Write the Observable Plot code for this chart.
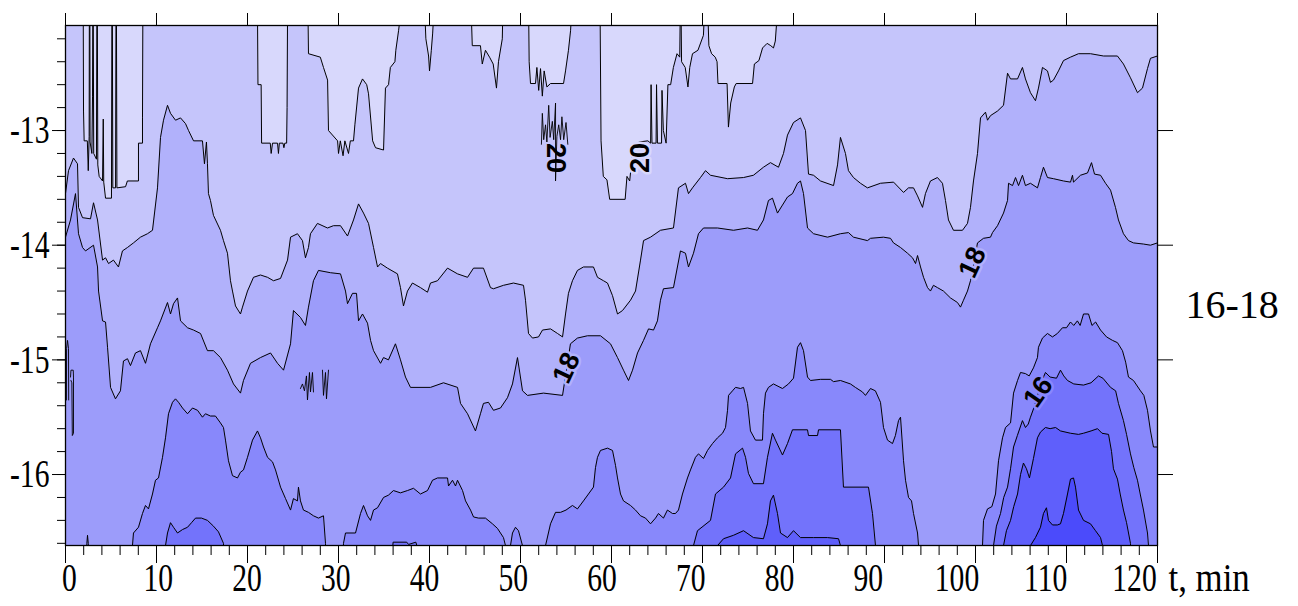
<!DOCTYPE html>
<html><head><meta charset="utf-8">
<script src="https://cdn.jsdelivr.net/npm/d3@7"></script>
<script src="https://cdn.jsdelivr.net/npm/@observablehq/plot@0.6"></script>
<style>body{margin:0;background:#fff}</style>
</head><body><div id="chart"></div>
<script>
const T = -12.0, B = -16.7;   // "beyond the frame" values (above top / below bottom)

const xTicks = [0,10,20,30,40,50,60,70,80,90,100,110,120];
const yTicks = [-13,-14,-15,-16];
const bandColors = ["#4b4bfb","#5f5ffb","#7373fb","#8888fb","#9c9cfa","#b1b1fb","#c5c5fb","#d8d8fc"]; // <14,14-15,...,>20

const L20 = [[0,T],[1.95,T],[1.98,-12.83],[2.05,-13.09],[2.4,-13.09],[2.5,-13.35],[2.6,-13.05],[2.62,T],[2.68,T],[2.7,-13.1],[2.9,-13.2],[2.97,-12.7],[3.0,T],[3.05,T],[3.1,-13.2],[3.4,-13.25],[3.45,T],[3.5,T],[3.55,-13.3],[3.7,-13.4],[4.07,-13.44],[4.15,-12.9],[4.2,-13.45],[4.4,-13.59],[5.05,-13.59],[5.1,T],[5.15,T],[5.2,-13.5],[5.5,-13.5],[5.55,T],[5.6,T],[5.65,-13.5],[6.6,-13.49],[6.8,-13.44],[8.02,-13.44],[8.02,-13.11],[8.46,-13.11],[8.46,-12.89],[8.5,T],
[21.1,T],[21.15,-12.6],[21.5,-12.6],[21.55,-13.11],[22.5,-13.11],[22.6,-13.2],[22.75,-13.11],[23.3,-13.11],[23.4,-13.2],[23.5,-13.11],[23.9,-13.11],[24.0,-13.15],[24.1,-13.11],[24.3,-13.11],[24.35,-12.8],[24.4,T],
[26.65,T],[26.7,-12.33],[28.0,-12.36],[28.35,-12.45],[28.8,-12.56],[28.9,-13.0],[29.9,-13.09],[30.0,-13.2],[30.2,-13.09],[30.5,-13.22],[30.7,-13.09],[31.1,-13.2],[31.3,-13.09],[31.65,-13.09],[31.8,-12.95],[32.2,-12.63],[32.64,-12.55],[33.1,-12.6],[33.3,-12.68],[33.75,-13.09],[34.07,-13.15],[34.95,-13.17],[35.16,-12.63],[35.5,-12.6],[35.7,-12.45],[36.2,-12.4],[36.3,-12.3],[36.6,-12.13],[36.8,T],
[39.5,T],[39.6,-12.2],[39.9,-12.35],[40.0,-12.48],[40.2,-12.3],[40.35,-12.15],[40.45,T],
[44.6,T],[44.7,-12.26],[45.6,-12.26],[45.8,-12.42],[46.15,-12.3],[46.6,-12.36],[47.0,-12.42],[47.36,-12.63],[47.58,-12.4],[48.0,-12.2],[48.05,T],
[50.9,T],[50.95,-12.4],[51.1,-12.59],[51.65,-12.59],[51.8,-12.45],[52.0,-12.65],[52.2,-12.46],[52.4,-12.7],[52.6,-12.48],[52.9,-12.62],[53.3,-12.59],[54.73,-12.59],[54.95,-12.48],[55.27,-12.3],[55.5,-12.13],[55.6,T],
[58.75,T],[58.85,-13.09],[59.1,-13.4],[59.5,-13.43],[59.8,-13.6],[61.5,-13.6],[61.7,-13.4],[62.0,-13.44],[62.3,-13.2],[63.0,-13.1],[64.0,-13.09],[64.3,-13.11],[64.35,-12.6],[64.45,-13.11],[64.9,-13.11],[64.95,-12.6],[65.05,-13.11],[65.5,-13.11],[65.55,-12.65],[65.7,-13.0],[66.0,-13.11],[66.2,-12.6],[66.5,-12.6],[66.8,-12.45],[67.2,-12.33],[67.5,-12.36],[67.55,T],[67.65,T],[67.7,-12.4],[68.1,-12.45],[68.4,-12.62],[68.6,-12.45],[68.9,-12.33],[69.5,-12.3],[70.1,-12.17],[70.2,T],[70.6,T],[70.7,-12.26],[71.0,-12.33],[71.4,-12.36],[71.6,-12.4],[71.7,-12.59],[72.7,-12.59],[72.85,-12.97],[73.1,-12.76],[73.5,-12.62],[73.7,-12.59],[75.5,-12.59],[75.7,-12.42],[76.2,-12.39],[76.6,-12.28],[77.1,-12.24],[77.5,-12.26],[77.8,-12.28],[78.0,-12.22],[78.2,T],
[120,T]];

const L19 = [[0,-13.55],[0.33,-13.35],[0.88,-13.24],[1.32,-13.29],[1.43,-13.67],[1.87,-13.76],[2.75,-13.77],[3.08,-13.63],[3.52,-13.78],[4.07,-14.13],[4.4,-14.11],[4.73,-14.16],[5.27,-14.13],[5.82,-14.19],[6.26,-14.05],[6.81,-14.02],[7.47,-13.98],[8.24,-13.93],[9.01,-13.9],[9.56,-13.87],[10.11,-13.5],[10.44,-13.06],[10.77,-12.91],[11.21,-12.78],[11.54,-12.85],[12.09,-12.91],[12.64,-12.89],[13.19,-12.94],[13.52,-13.0],[14.07,-13.09],[15.05,-13.09],[15.27,-13.29],[15.49,-13.1],[15.6,-13.29],[15.71,-13.55],[15.93,-13.61],[16.26,-13.74],[17.03,-13.87],[17.36,-13.96],[17.8,-14.07],[18.13,-14.31],[18.35,-14.4],[18.68,-14.53],[19.23,-14.6],[19.45,-14.54],[20.0,-14.4],[20.66,-14.28],[21.43,-14.26],[22.2,-14.28],[22.86,-14.31],[23.63,-14.29],[24.4,-14.13],[24.73,-13.93],[25.49,-13.9],[26.04,-13.96],[26.37,-14.11],[26.7,-14.02],[26.92,-13.9],[27.69,-13.81],[28.79,-13.85],[29.45,-13.83],[30.22,-13.83],[30.99,-13.92],[31.65,-13.78],[32.2,-13.64],[32.75,-13.72],[33.3,-13.81],[33.85,-14.02],[34.29,-14.19],[34.62,-14.16],[35.38,-14.2],[36.48,-14.25],[36.81,-14.37],[37.14,-14.53],[37.58,-14.4],[38.13,-14.33],[39.01,-14.37],[39.78,-14.41],[40.11,-14.33],[40.88,-14.31],[41.98,-14.2],[43.08,-14.25],[44.18,-14.28],[44.84,-14.2],[45.93,-14.2],[46.7,-14.37],[47.03,-14.38],[48.13,-14.35],[49.23,-14.33],[50.33,-14.35],[50.55,-14.48],[50.88,-14.77],[51.32,-14.81],[51.98,-14.8],[52.42,-14.74],[53.3,-14.73],[54.07,-14.77],[54.62,-14.8],[54.95,-14.6],[55.27,-14.42],[55.71,-14.31],[56.26,-14.22],[56.92,-14.19],[58.02,-14.19],[58.46,-14.28],[59.12,-14.31],[59.56,-14.33],[60.11,-14.44],[60.66,-14.6],[61.21,-14.57],[62.09,-14.48],[62.64,-14.4],[63.19,-14.13],[63.52,-13.96],[64.29,-13.93],[65.38,-13.87],[66.81,-13.85],[67.36,-13.5],[68.13,-13.46],[68.46,-13.55],[68.9,-13.5],[69.78,-13.41],[70.33,-13.35],[70.88,-13.39],[72.75,-13.42],[74.51,-13.41],[75.6,-13.39],[76.7,-13.32],[77.47,-13.28],[78.35,-13.32],[78.9,-13.2],[79.34,-13.04],[80.0,-12.93],[80.77,-12.89],[81.32,-13.0],[81.65,-13.38],[82.2,-13.39],[82.97,-13.44],[84.4,-13.48],[84.84,-13.3],[85.16,-13.06],[85.71,-13.2],[86.04,-13.35],[86.59,-13.41],[87.36,-13.46],[88.13,-13.5],[89.56,-13.46],[91.0,-13.45],[92.09,-13.54],[92.64,-13.5],[93.19,-13.5],[93.63,-13.57],[94.18,-13.67],[94.5,-13.55],[95.05,-13.44],[95.82,-13.41],[96.37,-13.46],[96.7,-13.61],[97.03,-13.78],[97.58,-13.87],[98.57,-13.87],[99.12,-13.81],[99.45,-13.67],[99.78,-13.44],[100.22,-13.2],[100.55,-12.89],[101.1,-12.84],[101.32,-12.91],[101.65,-12.87],[102.42,-12.83],[103.08,-12.78],[103.52,-12.5],[103.85,-12.55],[104.62,-12.55],[105.16,-12.45],[105.49,-12.55],[106.04,-12.67],[106.59,-12.74],[106.92,-12.63],[107.36,-12.45],[107.91,-12.48],[108.24,-12.58],[108.57,-12.56],[109.12,-12.48],[109.67,-12.39],[110.44,-12.36],[111.32,-12.33],[112.64,-12.33],[114.07,-12.35],[115.6,-12.35],[116.26,-12.42],[117.03,-12.54],[117.8,-12.67],[118.35,-12.63],[118.9,-12.46],[119.23,-12.37],[120,-12.35]];

const L18 = [[0,-13.93],[0.55,-13.78],[1.1,-13.55],[1.43,-13.9],[1.87,-14.02],[2.2,-14.05],[3.08,-14.0],[3.52,-14.19],[3.63,-14.4],[4.07,-14.66],[4.4,-14.67],[4.62,-14.89],[4.95,-15.24],[5.49,-15.34],[6.04,-15.27],[6.37,-15.01],[6.81,-14.99],[7.14,-15.05],[7.69,-14.94],[8.24,-14.92],[8.79,-15.03],[9.34,-14.86],[10.11,-14.72],[10.44,-14.66],[11.21,-14.5],[11.54,-14.6],[11.87,-14.51],[12.31,-14.46],[12.64,-14.66],[13.41,-14.72],[14.07,-14.74],[14.84,-14.77],[15.6,-14.92],[16.26,-14.92],[17.03,-14.98],[17.8,-15.09],[18.46,-15.21],[19.23,-15.29],[19.56,-15.18],[20.33,-15.03],[21.43,-14.98],[22.53,-14.94],[23.3,-15.03],[23.96,-15.09],[24.73,-14.86],[25.05,-14.57],[25.82,-14.63],[26.37,-14.7],[26.7,-14.54],[27.25,-14.31],[27.8,-14.22],[29.12,-14.24],[30.22,-14.25],[30.77,-14.4],[30.99,-14.51],[31.54,-14.42],[31.98,-14.42],[32.2,-14.66],[32.64,-14.6],[33.19,-14.68],[33.52,-14.83],[33.85,-14.92],[34.62,-15.03],[34.95,-14.98],[35.49,-15.0],[36.26,-14.86],[36.81,-15.0],[37.36,-15.15],[37.91,-15.24],[40.11,-15.24],[41.54,-15.2],[43.08,-15.24],[43.41,-15.38],[44.18,-15.47],[45.05,-15.62],[45.6,-15.47],[45.93,-15.38],[46.48,-15.37],[47.03,-15.44],[47.8,-15.42],[48.57,-15.33],[49.12,-15.21],[49.67,-14.98],[50.22,-15.27],[50.77,-15.31],[52.53,-15.29],[54.62,-15.31],[55.49,-14.86],[56.26,-14.81],[57.36,-14.79],[58.79,-14.79],[59.89,-14.86],[60.66,-14.98],[61.32,-15.09],[61.87,-15.18],[62.31,-15.09],[62.86,-14.94],[63.52,-14.83],[64.07,-14.73],[64.62,-14.74],[65.05,-14.66],[65.38,-14.48],[65.71,-14.38],[66.81,-14.37],[67.58,-14.05],[68.13,-14.07],[68.46,-14.19],[69.01,-14.07],[69.56,-13.9],[70.11,-13.85],[71.65,-13.85],[73.41,-13.87],[74.95,-13.85],[76.04,-13.87],[76.7,-13.78],[77.25,-13.61],[77.69,-13.59],[78.24,-13.72],[78.79,-13.65],[79.34,-13.58],[79.89,-13.55],[80.44,-13.46],[80.77,-13.44],[81.1,-13.55],[81.54,-13.85],[82.2,-13.9],[83.74,-13.93],[85.16,-13.9],[86.04,-13.89],[86.59,-13.93],[88.13,-13.96],[88.46,-13.94],[89.89,-13.93],[90.66,-13.94],[90.99,-13.98],[91.76,-14.02],[92.53,-14.07],[93.08,-14.11],[93.41,-14.16],[93.63,-14.09],[93.96,-14.19],[94.29,-14.28],[94.73,-14.37],[95.05,-14.4],[95.38,-14.35],[95.82,-14.37],[96.48,-14.4],[97.25,-14.46],[98.02,-14.5],[98.35,-14.54],[98.68,-14.48],[99.12,-14.4],[99.45,-14.31],[100.22,-13.98],[100.88,-13.94],[101.65,-13.93],[101.87,-13.89],[102.42,-13.83],[103.08,-13.72],[103.52,-13.61],[103.63,-13.46],[104.07,-13.48],[104.4,-13.41],[104.73,-13.48],[105.16,-13.39],[105.49,-13.48],[106.04,-13.46],[106.81,-13.5],[107.14,-13.41],[107.47,-13.32],[107.91,-13.41],[108.57,-13.42],[109.67,-13.44],[110.44,-13.45],[110.66,-13.39],[110.77,-13.45],[111.54,-13.39],[112.31,-13.37],[112.75,-13.28],[113.08,-13.38],[113.74,-13.39],[114.29,-13.46],[114.84,-13.52],[115.38,-13.67],[115.71,-13.78],[116.26,-13.9],[116.81,-13.96],[117.36,-13.98],[118.46,-13.99],[119.23,-14.0],[120,-13.98]];

const L17 = [[0,B],[2.3,B],[2.35,-16.6],[2.42,-16.53],[2.5,-16.6],[2.55,B],
[7.3,B],[7.36,-16.62],[7.47,-16.51],[8.02,-16.46],[8.46,-16.34],[8.79,-16.27],[9.12,-16.3],[9.56,-16.17],[9.89,-16.05],[10.22,-16.03],[10.66,-15.85],[10.99,-15.68],[11.32,-15.47],[11.76,-15.37],[12.09,-15.34],[12.42,-15.37],[12.86,-15.42],[13.41,-15.47],[13.96,-15.42],[14.51,-15.44],[15.05,-15.5],[15.38,-15.47],[15.93,-15.49],[16.48,-15.49],[17.03,-15.55],[17.36,-15.59],[17.58,-15.7],[17.91,-15.88],[18.35,-16.01],[18.9,-16.03],[19.23,-15.98],[19.56,-15.96],[20.0,-15.85],[20.55,-15.7],[21.1,-15.62],[21.43,-15.68],[21.76,-15.76],[22.2,-15.85],[22.75,-15.89],[23.08,-15.96],[23.63,-16.11],[24.18,-16.21],[24.73,-16.31],[25.05,-16.21],[25.49,-16.23],[25.6,-16.11],[25.82,-16.23],[26.15,-16.31],[26.7,-16.33],[27.25,-16.36],[27.8,-16.38],[28.35,-16.36],[28.57,-16.6],[28.6,B],
[30.5,B],[30.55,-16.6],[30.77,-16.51],[31.87,-16.51],[32.42,-16.34],[32.75,-16.27],[33.19,-16.36],[33.52,-16.4],[33.85,-16.31],[34.29,-16.29],[34.95,-16.2],[35.49,-16.18],[36.04,-16.14],[36.81,-16.16],[37.58,-16.14],[38.24,-16.12],[39.01,-16.17],[39.78,-16.14],[40.33,-16.05],[40.88,-16.03],[41.98,-16.03],[42.09,-16.1],[42.53,-16.05],[42.86,-16.1],[43.08,-16.05],[43.63,-16.14],[43.96,-16.23],[44.51,-16.31],[44.84,-16.37],[45.38,-16.38],[46.15,-16.38],[46.92,-16.43],[47.47,-16.47],[47.8,-16.51],[48.13,-16.55],[48.35,-16.62],[48.4,B],
[48.85,B],[48.9,-16.62],[49.12,-16.51],[49.45,-16.46],[49.78,-16.49],[50.22,-16.62],[50.3,B],
[52.7,B],[52.75,-16.62],[53.3,-16.43],[53.85,-16.33],[54.4,-16.33],[55.0,-16.31],[55.71,-16.27],[56.26,-16.3],[56.92,-16.23],[57.47,-16.17],[58.02,-16.11],[58.24,-15.94],[58.46,-15.85],[58.79,-15.79],[59.56,-15.77],[60.11,-15.79],[60.44,-15.92],[60.66,-16.03],[60.99,-16.17],[61.32,-16.23],[62.09,-16.27],[62.64,-16.31],[63.19,-16.36],[63.74,-16.38],[64.29,-16.43],[64.84,-16.38],[65.16,-16.34],[65.71,-16.38],[66.15,-16.31],[66.7,-16.34],[67.03,-16.34],[67.36,-16.31],[67.8,-16.17],[68.35,-16.03],[68.68,-15.96],[69.23,-15.85],[69.56,-15.82],[70.11,-15.86],[70.55,-15.79],[71.1,-15.73],[71.65,-15.68],[72.2,-15.64],[72.53,-15.59],[72.75,-15.44],[72.86,-15.31],[73.3,-15.27],[73.63,-15.24],[74.18,-15.25],[74.51,-15.24],[74.95,-15.38],[75.27,-15.62],[75.82,-15.7],[76.59,-15.7],[76.7,-15.47],[76.92,-15.29],[77.25,-15.24],[77.8,-15.21],[78.79,-15.25],[79.45,-15.21],[80.0,-15.16],[80.44,-14.89],[80.77,-14.85],[81.1,-14.92],[81.54,-15.15],[81.87,-15.18],[82.97,-15.17],[84.07,-15.17],[84.4,-15.19],[85.16,-15.18],[86.26,-15.21],[86.8,-15.24],[87.58,-15.28],[87.91,-15.31],[88.46,-15.25],[89.0,-15.27],[89.56,-15.37],[89.89,-15.59],[90.33,-15.7],[90.88,-15.73],[91.2,-15.66],[91.54,-15.53],[91.76,-15.5],[92.09,-15.88],[92.31,-16.05],[92.64,-16.2],[92.97,-16.23],[93.19,-16.34],[93.63,-16.51],[93.74,-16.62],[93.8,B],
[100.7,B],[100.77,-16.62],[100.88,-16.4],[101.32,-16.3],[101.8,-16.28],[102.2,-16.17],[102.53,-15.88],[102.97,-15.68],[103.3,-15.59],[103.85,-15.55],[104.18,-15.29],[104.62,-15.18],[104.95,-15.11],[105.49,-15.12],[105.9,-15.14],[106.37,-15.07],[106.81,-14.98],[106.92,-14.89],[107.36,-14.81],[107.91,-14.77],[108.46,-14.8],[109.0,-14.77],[109.56,-14.72],[110.0,-14.72],[110.44,-14.67],[110.8,-14.7],[111.2,-14.66],[111.5,-14.7],[111.87,-14.6],[112.42,-14.6],[112.8,-14.7],[113.2,-14.67],[113.74,-14.74],[114.4,-14.8],[115.05,-14.83],[115.6,-14.85],[116.15,-14.92],[116.5,-15.02],[116.81,-15.15],[117.36,-15.18],[118.13,-15.27],[118.5,-15.31],[118.9,-15.44],[119.23,-15.62],[119.56,-15.76],[120,-15.76]];

const L16 = [[0,B],[10.9,B],[10.99,-16.62],[11.21,-16.51],[11.54,-16.42],[11.87,-16.46],[12.31,-16.51],[12.86,-16.48],[13.41,-16.46],[13.85,-16.42],[14.29,-16.38],[14.95,-16.38],[15.6,-16.4],[16.26,-16.45],[16.81,-16.5],[17.36,-16.6],[17.4,B],
[35.9,B],[36.0,-16.59],[37.5,-16.59],[37.7,-16.61],[38.5,-16.59],[38.9,B],
[68.95,B],[69.01,-16.62],[69.45,-16.49],[70.88,-16.4],[71.43,-16.17],[72.31,-16.11],[73.08,-16.03],[73.63,-15.82],[74.4,-15.77],[74.73,-15.85],[75.05,-15.99],[75.6,-16.08],[76.7,-16.08],[77.14,-15.85],[77.69,-15.64],[78.02,-15.7],[78.79,-15.83],[79.34,-15.73],[79.89,-15.61],[81.54,-15.61],[81.65,-15.66],[82.64,-15.66],[82.75,-15.61],[85.16,-15.61],[85.49,-16.11],[88.24,-16.11],[88.68,-16.34],[89.01,-16.62],[89.05,B],
[101.9,B],[101.98,-16.62],[102.3,-16.45],[102.75,-16.34],[103.1,-16.2],[103.52,-16.11],[103.85,-15.95],[104.18,-15.76],[104.6,-15.66],[105.16,-15.53],[105.49,-15.59],[105.8,-15.56],[106.04,-15.5],[106.5,-15.4],[107.2,-15.2],[107.69,-15.11],[108.2,-15.15],[108.9,-15.16],[109.34,-15.09],[109.7,-15.14],[110.11,-15.18],[110.8,-15.21],[111.87,-15.22],[112.7,-15.2],[113.52,-15.14],[114.0,-15.16],[114.84,-15.24],[115.4,-15.27],[115.71,-15.38],[116.26,-15.53],[116.6,-15.65],[117.03,-15.82],[117.4,-15.94],[117.8,-16.05],[118.1,-16.17],[118.46,-16.31],[118.9,-16.51],[119.01,-16.62],[119.1,B],[120,B]];

const L15 = [[0,B],[71.6,B],[71.65,-16.62],[72.31,-16.56],[73.41,-16.53],[74.51,-16.49],[75.6,-16.55],[76.7,-16.56],[77.14,-16.43],[77.47,-16.23],[77.8,-16.18],[78.24,-16.34],[78.57,-16.51],[79.34,-16.55],[80.0,-16.49],[80.77,-16.55],[82.2,-16.55],[83.74,-16.55],[84.95,-16.56],[85.16,-16.62],[85.2,B],
[103.0,B],[103.08,-16.62],[103.4,-16.49],[103.85,-16.4],[104.2,-16.28],[104.62,-16.17],[104.95,-16.0],[105.27,-15.9],[105.6,-15.95],[105.93,-16.03],[106.37,-15.86],[106.81,-15.68],[107.14,-15.63],[107.69,-15.59],[108.2,-15.6],[108.8,-15.59],[109.34,-15.62],[110.44,-15.64],[111.32,-15.65],[111.87,-15.64],[112.7,-15.62],[113.41,-15.6],[113.9,-15.64],[114.62,-15.65],[114.95,-15.8],[115.16,-15.95],[115.6,-16.04],[115.9,-16.17],[116.26,-16.31],[116.6,-16.42],[117.03,-16.6],[117.1,B],[120,B]];

const L14 = [[0,B],[106.0,B],[106.04,-16.62],[106.59,-16.55],[107.14,-16.46],[107.47,-16.34],[107.8,-16.29],[108.02,-16.4],[108.46,-16.44],[109.0,-16.44],[109.34,-16.43],[109.67,-16.34],[110.11,-16.17],[110.44,-16.04],[110.77,-16.03],[110.99,-16.11],[111.32,-16.31],[111.87,-16.4],[112.64,-16.43],[113.19,-16.49],[113.74,-16.55],[113.96,-16.62],[114.0,B],[120,B]];

// small closed contour fragments (islands)
const islands = [
 ["a",0.1,-15.35],["a",0.12,-14.9],["a",0.22,-14.83],["a",0.33,-14.9],["a",0.35,-15.35],
 ["b",0.55,-15.15],["b",0.6,-15.09],["b",0.85,-15.09],["b",0.88,-15.15],["b",0.88,-15.64],["b",0.75,-15.66],["b",0.7,-15.2],["b",0.6,-15.18],
 ["c",25.82,-15.25],["c",26.04,-15.21],["c",26.26,-15.27],["c",26.48,-15.14],["c",26.59,-15.35],["c",26.81,-15.11],["c",26.92,-15.28],["c",27.14,-15.11],["c",27.25,-15.28],
 ["d",28.24,-15.09],["d",28.35,-15.31],["d",28.57,-15.11],["d",28.68,-15.34],["d",28.9,-15.09],
 ["e",52.3,-13.12],["e",52.4,-12.85],["e",52.55,-13.08],["e",52.75,-12.95],["e",52.9,-13.1],["e",53.1,-12.78],["e",53.25,-13.06],["e",53.5,-12.92],["e",53.65,-13.08],["e",53.85,-12.76],["e",53.85,-13.44],["e",54.0,-13.05],["e",54.2,-12.95],["e",54.4,-13.08],["e",54.55,-12.88],["e",54.75,-13.08],["e",55.0,-12.93],["e",55.2,-13.12]
];

const contourLabels = [
 {text:"20", t:53.85, y:-13.24, rotate:90,  halo:null},
 {text:"20", t:63.19, y:-13.24, rotate:-90, halo:"#d8d8fc"},
 {text:"18", t:55.05, y:-15.07, rotate:-65, halo:"#b1b1fb"},
 {text:"18", t:99.67, y:-14.15, rotate:-65, halo:"#b1b1fb"},
 {text:"16", t:106.9, y:-15.28, rotate:-55, halo:"#8888fb"}
];

const levels = [L14, L15, L16, L17, L18, L19, L20];

const marks = [Plot.frame({fill: bandColors[0], stroke: null})];
levels.forEach((data, i) => marks.push(
  Plot.areaY(data, {x: d => d[0], y1: d => d[1], y2: T, fill: bandColors[i + 1], clip: true})
));
levels.forEach(data => marks.push(
  Plot.line(data, {x: d => d[0], y: d => d[1], stroke: "black", strokeWidth: 1, clip: true})
));
marks.push(Plot.line(islands, {x: d => d[1], y: d => d[2], z: d => d[0], stroke: "black", strokeWidth: 0.9, clip: true}));
contourLabels.forEach(l => marks.push(Plot.text([l], {
  x: "t", y: "y", text: "text", rotate: l.rotate, fontSize: 27, fontWeight: "bold", fontFamily: "Liberation Sans",
  fill: "black", stroke: l.halo ?? undefined, strokeWidth: l.halo ? 5 : undefined
})));
marks.push(
  Plot.frame({stroke: "black", strokeWidth: 1.3}),
  Plot.axisX({ticks: xTicks, tickSize: 18, tickFormat: () => ""}),
  Plot.axisX({ticks: d3.range(0, 121, 2), tickSize: 10, tickFormat: () => ""}),
  Plot.axisX({anchor: "top", ticks: xTicks, tickSize: 13, tickFormat: () => ""}),
  Plot.axisY({ticks: yTicks, tickSize: 13, tickPadding: 3, fontSize: 40, tickFormat: d => String(d)}),
  Plot.axisY({ticks: d3.range(-83, -60).map(i => i / 5), tickSize: 8, tickFormat: () => ""}),
  Plot.axisY({anchor: "right", ticks: yTicks, tickSize: 15, tickFormat: () => ""}),
  Plot.text(["t, min"], {frameAnchor: "bottom-right", textAnchor: "start", lineAnchor: "middle", dx: 11, dy: 33, fontSize: 40}),
  Plot.text(["16-18"], {frameAnchor: "right", textAnchor: "start", lineAnchor: "middle", dx: 28, dy: 20, fontSize: 40})
);
// bottom tick labels: in the original they sit slightly left of their ticks, drifting with distance
xTicks.forEach((v, k) => marks.push(
  Plot.text([v], {x: d => d, frameAnchor: "bottom", lineAnchor: "middle", dy: 33, dx: 4 - 2.25 * k, fontSize: 40, text: d => String(d)})
));

const chart = Plot.plot({
  width: 1298, height: 606,
  marginLeft: 65, marginRight: 141, marginTop: 25, marginBottom: 61,
  x: {domain: [0, 120], label: null},
  y: {domain: [-16.619, -12.084], label: null},
  style: {background: "#fff", fontFamily: "Liberation Serif", color: "black", overflow: "visible"},
  marks
});
document.getElementById("chart").append(chart);

// narrow the serif axis numerals like the original (all 40px texts except the side label)
chart.querySelectorAll('text').forEach(el => {
  const s = el.textContent;
  if (getComputedStyle(el).fontSize !== "40px" || s === "16-18") return;
  const f = s === "t, min" ? 0.87 : 0.74;
  const w = el.getComputedTextLength();
  if (w > 0) { el.setAttribute("textLength", (w * f).toFixed(1)); el.setAttribute("lengthAdjust", "spacingAndGlyphs"); }
});
</script>
</body></html>
